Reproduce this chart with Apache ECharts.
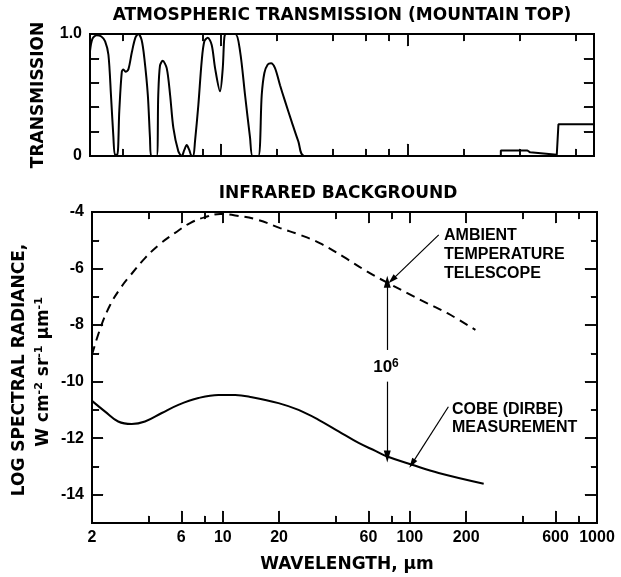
<!DOCTYPE html>
<html><head><meta charset="utf-8">
<script src="https://cdn.jsdelivr.net/npm/echarts@6/dist/echarts.min.js"></script>
<style>html,body{margin:0;padding:0;background:#fff}#c{width:621px;height:577px}</style>
</head><body><div id="c"></div>
<script>
// ---- Top panel: atmospheric transmission (mountain top) ----
const transWavelength = [2.00, 2.06, 2.17, 2.30, 2.41, 2.51, 2.59, 2.67, 2.72, 2.80, 2.87, 2.96, 3.02, 3.10, 3.21, 3.35, 3.50, 3.63, 3.78, 3.91, 4.08, 4.19, 4.26, 4.55, 4.64, 4.74, 4.90, 5.15, 5.37, 5.59, 5.94, 6.20, 6.40, 6.59, 6.80, 7.01, 7.15, 7.30, 7.61, 7.93, 8.19, 8.54, 8.97, 9.35, 9.94, 10.28, 10.48, 10.7, 12.0, 12.72, 13.53, 14.39, 14.85, 15.94, 16.62, 17.17, 17.90, 18.64, 19.58, 20.83, 22.15, 24.06, 26.10, 28.1, 300];
const transValue = [0.86, 0.96, 0.99, 0.98, 0.94, 0.83, 0.50, 0.15, 0.01, 0.01, 0.37, 0.69, 0.71, 0.69, 0.71, 0.85, 0.97, 1.0, 0.95, 0.80, 0.50, 0.15, 0, 0, 0.50, 0.74, 0.78, 0.72, 0.50, 0.23, 0.04, 0, 0.05, 0.09, 0.05, 0, 0, 0.12, 0.42, 0.78, 0.94, 0.97, 0.91, 0.72, 0.53, 0.72, 0.97, 1.0, 1.0, 0.86, 0.50, 0.15, 0, 0, 0.50, 0.68, 0.75, 0.76, 0.72, 0.58, 0.45, 0.28, 0.12, 0, 0];
const farWavelength = [300, 317, 317, 440, 455, 632, 645, 645, 1000];
const farValue = [0, 0, 0.045, 0.045, 0.03, 0.01, 0.01, 0.26, 0.26];

// ---- Bottom panel: infrared background (log spectral radiance) ----
const ambientWavelength = [2.00, 2.23, 2.50, 2.82, 3.19, 3.84, 4.62, 5.56, 6.69, 8.05, 9.68, 11.65, 15.46, 20.27, 25.94, 33.2, 44.06, 59.2, 75.7, 96.9, 124.0, 158.7, 224.0];
const ambientRadiance = [-9.05, -8.06, -7.29, -6.72, -6.26, -5.63, -5.13, -4.74, -4.39, -4.18, -4.07, -4.12, -4.28, -4.57, -4.81, -5.11, -5.58, -6.11, -6.50, -6.87, -7.23, -7.58, -8.17];
const cobeWavelength = [2.0, 2.35, 2.76, 3.26, 3.84, 4.72, 5.79, 7.41, 9.48, 11.65, 14.31, 19.85, 25.40, 32.50, 41.58, 53.20, 65.4, 75.7, 102.7, 142.5, 248];
const cobeRadiance = [-10.68, -11.06, -11.41, -11.50, -11.41, -11.11, -10.82, -10.58, -10.47, -10.47, -10.55, -10.76, -11.00, -11.35, -11.76, -12.17, -12.45, -12.65, -12.94, -13.23, -13.61];

// ---- Ticks / labels ----
const xLabelValues = [2, 6, 10, 20, 60, 100, 200, 600, 1000];
const xMajorTicks = [6, 10, 20, 60, 100, 200, 600];
const xMinorTicks = [4, 8, 40, 80, 400, 800];
const topMajorTicks = [10, 100];
const topMinorTicks = [3, 8, 20, 40, 60, 80, 200, 400, 800];
const yLabelValues = [-14, -12, -10, -8, -6, -4];
const yMinorTicks = [-13, -11, -9, -7, -5];
const transLabelValues = [0, 1];
const transTicks = [0.2, 0.4, 0.6, 0.8];

// ---- Annotation anchors (data space) ----
const ambientArrow = [[142.6, -4.81], [80.3, -6.40]];
const cobeArrow = [[160.6, -10.89], [102.7, -12.90]];
const ratioUpper = [[75.7, -8.88], [75.7, -6.47]];
const ratioLower = [[75.7, -10.0], [75.7, -12.65]];

const FONT = 'Liberation Sans';
const TFONT = 'DejaVu Sans';
const pair = (xs, ys) => xs.map((x, i) => [x, ys[i]]);

const G0 = { left: 90, top: 34, right: 27, height: 122 };
const G1 = { left: 92, top: 212, right: 24, height: 311 };
const W = 621;

function xAxis(grid, position, ticks, len, labels) {
  return {
    type: 'log', logBase: 10, min: 2, max: 1000, gridIndex: grid, position: position,
    axisLine: { show: false, onZero: false },
    splitLine: { show: false },
    axisTick: { show: true, inside: true, length: len, customValues: ticks, lineStyle: { color: '#000', width: 1.5 } },
    axisLabel: labels ? { show: true, customValues: labels, formatter: v => String(Math.round(v)), color: '#000', fontFamily: FONT, fontWeight: 'bold', fontSize: 16, margin: 7, showMinLabel: true, showMaxLabel: true } : { show: false }
  };
}
function yAxis(grid, position, min, max, ticks, len, labels, fmt) {
  return {
    type: 'value', min: min, max: max, gridIndex: grid, position: position,
    axisLine: { show: false, onZero: false },
    splitLine: { show: false },
    axisTick: { show: true, inside: true, length: len, customValues: ticks, lineStyle: { color: '#000', width: 1.5 } },
    axisLabel: labels ? { show: true, customValues: labels, formatter: fmt, color: '#000', fontFamily: FONT, fontWeight: 'bold', fontSize: 16, margin: 8, showMinLabel: true, showMaxLabel: true } : { show: false }
  };
}

// Tick marks also drawn as short mark lines in data space (lengths converted from pixels)
function tickLines(g, ymin, ymax, spec) {
  const width = W - g.left - g.right;
  const dyPx = (ymax - ymin) / g.height;
  const dlogPx = Math.log10(1000 / 2) / width;
  const eY = 0.6 * dyPx, eX = Math.pow(10, 0.6 * dlogPx);
  const out = [];
  spec.x.forEach(([vals, lb, lt]) => vals.forEach(v => {
    out.push([{ coord: [v, ymin + eY], symbolSize: 1 }, { coord: [v, ymin + lb * dyPx], symbolSize: 1 }]);
    out.push([{ coord: [v, ymax - eY], symbolSize: 1 }, { coord: [v, ymax - lt * dyPx], symbolSize: 1 }]);
  }));
  spec.y.forEach(([vals, ll, lr]) => vals.forEach(v => {
    out.push([{ coord: [2 * eX, v], symbolSize: 1 }, { coord: [2 * Math.pow(10, ll * dlogPx), v], symbolSize: 1 }]);
    out.push([{ coord: [1000 / eX, v], symbolSize: 1 }, { coord: [1000 / Math.pow(10, lr * dlogPx), v], symbolSize: 1 }]);
  }));
  return out;
}
const topTicks = tickLines(G0, 0, 1, { x: [[topMajorTicks, 12, 12], [topMinorTicks, 7, 7]], y: [[transTicks, 9, 10]] });
const botTicks = tickLines(G1, -15, -4, { x: [[xMajorTicks, 12, 11], [xMinorTicks, 7, 7]], y: [[yLabelValues, 11, 12], [yMinorTicks, 7, 6]] });

const chart = echarts.init(document.getElementById('c'), null, { renderer: 'canvas' });
const arrowLine = { color: '#000', width: 1.2, type: 'solid' };
const tickStyle = { color: '#000', width: 1.5, type: 'solid' };

chart.setOption({
  backgroundColor: '#fff',
  animation: false,
  grid: [
    Object.assign({ show: true, borderColor: '#000', borderWidth: 2, backgroundColor: 'transparent' }, G0),
    Object.assign({ show: true, borderColor: '#000', borderWidth: 2, backgroundColor: 'transparent' }, G1)
  ],
  xAxis: [
    xAxis(0, 'bottom', topMajorTicks, 12),
    xAxis(0, 'bottom', topMinorTicks, 7),
    xAxis(0, 'top', topMajorTicks, 12),
    xAxis(0, 'top', topMinorTicks, 7),
    xAxis(1, 'bottom', xMajorTicks, 12, xLabelValues),
    xAxis(1, 'bottom', xMinorTicks, 7),
    xAxis(1, 'top', xMajorTicks, 11),
    xAxis(1, 'top', xMinorTicks, 7)
  ],
  yAxis: [
    yAxis(0, 'left', 0, 1, transTicks, 9, transLabelValues, v => (v === 1 ? '1.0' : '0')),
    yAxis(0, 'right', 0, 1, transTicks, 10),
    yAxis(1, 'left', -15, -4, yLabelValues, 11, yLabelValues, v => String(v)),
    yAxis(1, 'left', -15, -4, yMinorTicks, 7),
    yAxis(1, 'right', -15, -4, yLabelValues, 12),
    yAxis(1, 'right', -15, -4, yMinorTicks, 6)
  ],
  series: [
    { type: 'line', xAxisIndex: 0, yAxisIndex: 0, data: pair(transWavelength, transValue), smooth: 0.3, showSymbol: false, symbol: 'none', lineStyle: { color: '#000', width: 2 }, silent: true,
      markLine: { silent: true, symbol: ['none', 'triangle'], symbolSize: 1, label: { show: false }, lineStyle: tickStyle, data: topTicks } },
    { type: 'line', xAxisIndex: 0, yAxisIndex: 0, data: pair(farWavelength, farValue), smooth: false, showSymbol: false, symbol: 'none', lineStyle: { color: '#000', width: 2 }, silent: true },
    { type: 'line', xAxisIndex: 4, yAxisIndex: 2, data: pair(ambientWavelength, ambientRadiance), smooth: 0.4, showSymbol: false, symbol: 'none', lineStyle: { color: '#000', width: 2, type: [9, 6] }, silent: true,
      markLine: {
        silent: true, symbol: ['none', 'triangle'], symbolSize: [7, 12], label: { show: false }, lineStyle: arrowLine,
        data: [
          [{ coord: ambientArrow[0], symbolSize: 1 }, { coord: ambientArrow[1], symbolSize: [6, 10] }],
          [{ coord: cobeArrow[0], symbolSize: 1 }, { coord: cobeArrow[1], symbolSize: [6, 10] }],
          [{ coord: ratioUpper[0] }, { coord: ratioUpper[1] }],
          [{ coord: ratioLower[0] }, { coord: ratioLower[1] }]
        ]
      }
    },
    { type: 'line', xAxisIndex: 4, yAxisIndex: 2, data: pair(cobeWavelength, cobeRadiance), smooth: 0.4, showSymbol: false, symbol: 'none', lineStyle: { color: '#000', width: 2 }, silent: true,
      markLine: { silent: true, symbol: ['none', 'triangle'], symbolSize: 1, label: { show: false }, lineStyle: tickStyle, data: botTicks } }
  ],
  graphic: [
    { type: 'text', x: 342, y: 16, style: { text: 'ATMOSPHERIC TRANSMISSION (MOUNTAIN TOP)', font: 'bold 17px "' + TFONT + '"', fill: '#000', align: 'center', verticalAlign: 'middle' } },
    { type: 'text', x: 338, y: 194, style: { text: 'INFRARED BACKGROUND', font: 'bold 17px "' + TFONT + '"', fill: '#000', align: 'center', verticalAlign: 'middle' } },
    { type: 'text', x: 39, y: 95, rotation: Math.PI / 2, style: { text: 'TRANSMISSION', font: 'bold 17px "' + TFONT + '"', fill: '#000', align: 'center', verticalAlign: 'middle' } },
    { type: 'text', x: 20, y: 370, rotation: Math.PI / 2, style: { text: 'LOG SPECTRAL RADIANCE,', font: 'bold 17px "' + TFONT + '"', fill: '#000', align: 'center', verticalAlign: 'middle' } },
    { type: 'text', x: 44, y: 372, rotation: Math.PI / 2, style: {
      text: '{a|W cm}{s|-2}{a| sr}{s|-1}{a| µm}{s|-1}', align: 'center', verticalAlign: 'middle',
      rich: { a: { fontFamily: TFONT, fontWeight: 'bold', fontSize: 17, fill: '#000', lineHeight: 20 }, s: { fontFamily: TFONT, fontWeight: 'bold', fontSize: 11, fill: '#000', verticalAlign: 'top', lineHeight: 12 } } } },
    { type: 'text', x: 347, y: 565, style: { text: 'WAVELENGTH, µm', font: 'bold 17px "' + TFONT + '"', fill: '#000', align: 'center', verticalAlign: 'middle' } },
    { type: 'text', x: 444, y: 226, style: { text: 'AMBIENT\nTEMPERATURE\nTELESCOPE', font: 'bold 16px "' + FONT + '"', lineHeight: 19, fill: '#000', align: 'left', verticalAlign: 'top' } },
    { type: 'text', x: 452, y: 400, style: { text: 'COBE (DIRBE)\nMEASUREMENT', font: 'bold 16px "' + FONT + '"', lineHeight: 18.5, fill: '#000', align: 'left', verticalAlign: 'top' } },
    { type: 'text', x: 386, y: 367, style: {
      text: '{b|10}{s|6}', align: 'center', verticalAlign: 'middle',
      rich: { b: { fontFamily: FONT, fontWeight: 'bold', fontSize: 17, fill: '#000', lineHeight: 19 }, s: { fontFamily: FONT, fontWeight: 'bold', fontSize: 12, fill: '#000', verticalAlign: 'top', lineHeight: 12 } } } }
  ]
});
</script></body></html>
